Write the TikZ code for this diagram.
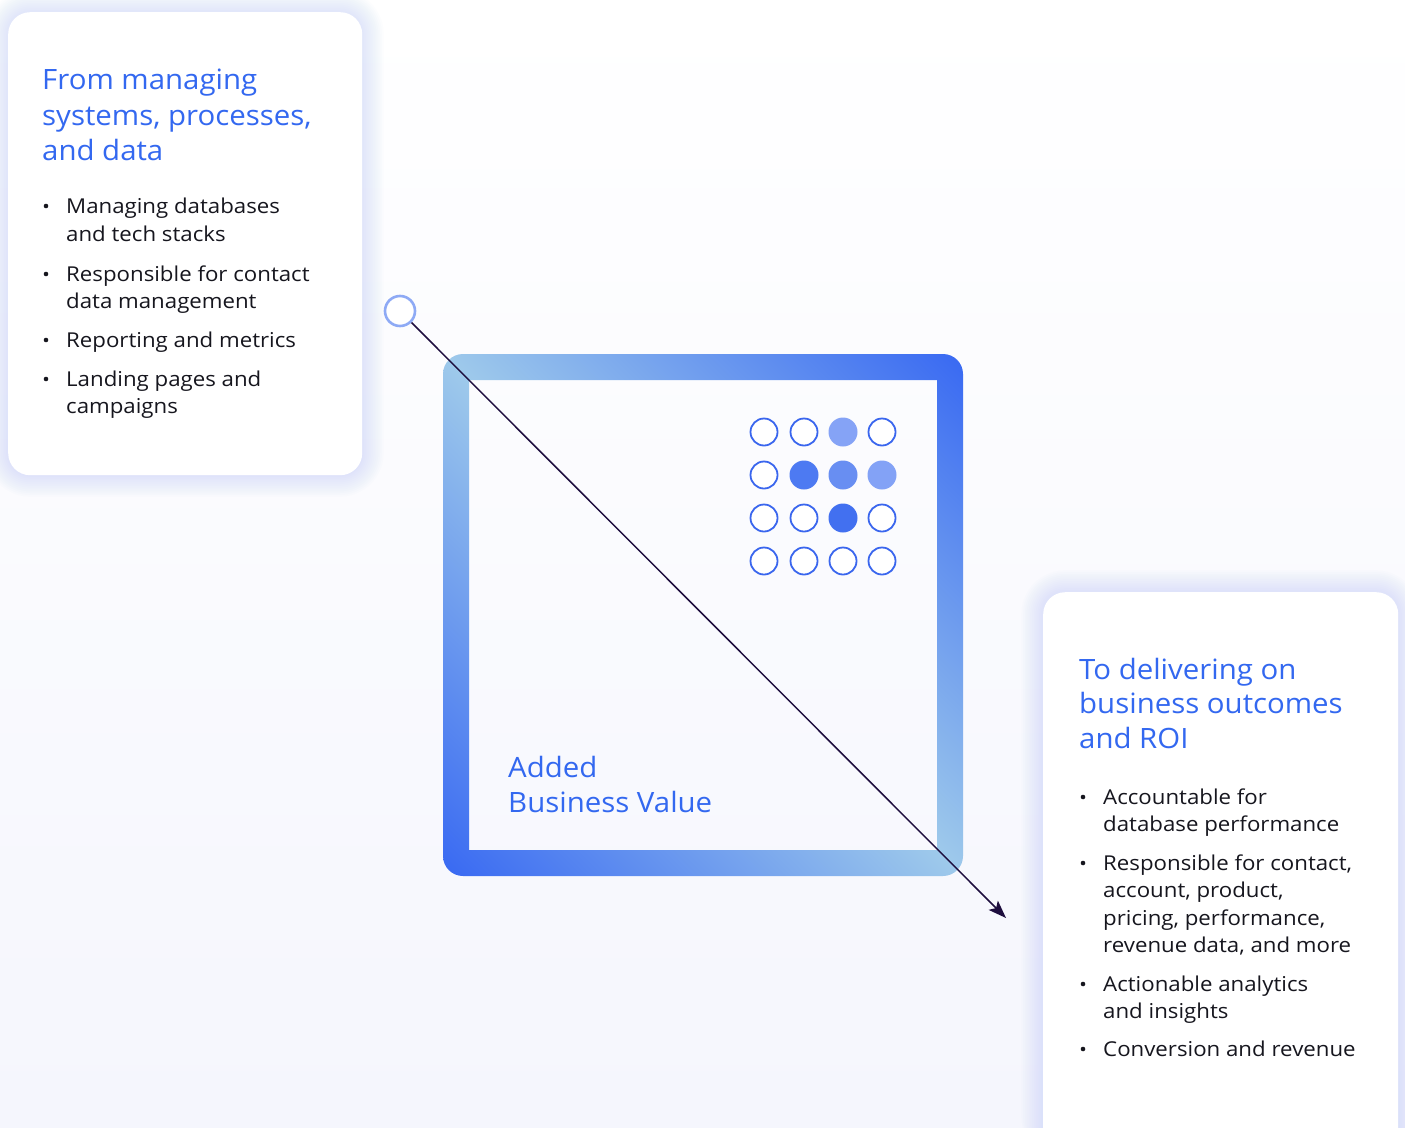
\documentclass[tikz,border=0pt]{standalone}
\usepackage{fontspec}
\setmainfont{Open Sans}
\newfontfamily\headfont{Open Sans}[FakeStretch=1.05]
\newfontfamily\itemfont{Open Sans}[FakeStretch=1.085]
\usetikzlibrary{arrows.meta}
\definecolor{hblue}{RGB}{51,104,240}
\definecolor{txt}{RGB}{22,22,30}
\definecolor{dotblue}{RGB}{58,102,238}
\definecolor{arrowc}{RGB}{30,14,62}
\definecolor{ringc}{RGB}{142,170,245}
\definecolor{glow}{RGB}{185,200,250}
\definecolor{bgbot}{RGB}{245,246,253}
\definecolor{bgmid}{RGB}{252,252,255}
\definecolor{fa}{RGB}{133,163,246}
\definecolor{fb}{RGB}{77,122,242}
\definecolor{fc}{RGB}{104,142,242}
\definecolor{fd}{RGB}{131,162,246}
\definecolor{fe}{RGB}{66,112,240}
\pgfdeclarefunctionalshading{frameshade}{\pgfpoint{0bp}{0bp}}{\pgfpoint{100bp}{100bp}}{}{add 100 sub abs 50 div dup dup -0.40 mul 0.62 add exch -0.38 mul 0.79 add 3 -1 roll 0.03 mul 0.92 add}
\tikzset{
  card/.style={fill=white, draw=none, rounded corners=22pt, anchor=north west, inner sep=0pt},
  odot/.style={circle, minimum size=27pt, inner sep=0pt, draw=dotblue, line width=1.8pt, fill=white},
  fdot/.style={circle, minimum size=29pt, inner sep=0pt, draw=none, fill=#1},
  dfa/.style={fdot=fa}, dfb/.style={fdot=fb}, dfc/.style={fdot=fc}, dfd/.style={fdot=fd}, dfe/.style={fdot=fe},
  head/.style={anchor=base west, inner sep=0pt, text=hblue, font=\headfont\fontsize{28}{35}\selectfont},
  item/.style={anchor=base west, inner sep=0pt, text=txt, font=\itemfont\fontsize{20.5}{27}\selectfont},
  bul/.style={circle, fill=txt, inner sep=0pt, minimum size=4.6pt},
}
\begin{document}
\begin{tikzpicture}[x=1pt,y=-1pt]
\useasboundingbox (0,0) rectangle (1405,1127);
% background
\shade[top color=white, middle color=bgmid, bottom color=bgbot] (0,0) rectangle (1405,1127);
% glows
\foreach \i in {1,...,12}{
  \pgfmathsetmacro\d{\i*1.8}
  \pgfmathsetmacro\rr{22+\d}
  \fill[glow, opacity=0.035, rounded corners=\rr pt] (8-\d,12-\d) rectangle (362+\d,475+\d);
  \fill[glow, opacity=0.035, rounded corners=\rr pt] (1043-\d,592-\d) rectangle (1398+\d,1160);
}
% cards
\node[card, minimum width=354pt, minimum height=463pt] (lcard) at (8,12) {};
\node[card, minimum width=355pt, minimum height=560pt] (rcard) at (1043,592) {};
% frame
\shade[shading=frameshade, even odd rule]
  [rounded corners=20pt] (443,354) rectangle (963,876)
  [sharp corners] (469,380) rectangle (937,850);
% dots
\foreach \n/\x/\y/\s in {
  a/764/432/odot, b/804/432/odot, c/843/432/dfa, d/882/432/odot,
  e/764/475/odot, f/804/475/dfb, g/843/475/dfc, h/882/475/dfd,
  i/764/518/odot, j/804/518/odot, k/843/518/dfe, l/882/518/odot,
  m/764/561/odot, n/804/561/odot, o/843/561/odot, p/882/561/odot}
  \node[\s] (dot\n) at (\x,\y) {};
% texts in frame
\node[head] (av1) at (508,777) {Added};
\node[head] (av2) at (508,812) {Business Value};
% left card
\node[head] (lh1) at (42,89) {From managing};
\node[head] (lh2) at (42,125) {systems, processes,};
\node[head] (lh3) at (42,160) {and data};
\foreach \n/\y/\t/\b in {
  1/213/{Managing databases}/1, 2/241/{and tech stacks}/0,
  3/281/{Responsible for contact}/1, 4/308/{data management}/0,
  5/347/{Reporting and metrics}/1,
  6/386/{Landing pages and}/1, 7/413/{campaigns}/0}{
  \node[item] (li\n) at (66,\y) {\t};
  \ifnum\b=1 \node[bul] (lb\n) at (46,\y-7) {};\fi
}
% right card
\node[head] (rh1) at (1079,679) {To delivering on};
\node[head] (rh2) at (1079,713) {business outcomes};
\node[head] (rh3) at (1079,748) {and ROI};
\foreach \n/\y/\t/\b in {
  1/804/{Accountable for}/1, 2/831/{database performance}/0,
  3/870/{Responsible for contact,}/1, 4/897/{account, product,}/0,
  5/925/{pricing, performance,}/0, 6/952/{revenue data, and more}/0,
  7/991/{Actionable analytics}/1, 8/1018/{and insights}/0,
  9/1056/{Conversion and revenue}/1}{
  \node[item] (ri\n) at (1103,\y) {\t};
  \ifnum\b=1 \node[bul] (rb\n) at (1083,\y-7) {};\fi
}
% connector
\node[circle, draw=ringc, line width=2.6pt, fill=white, minimum size=30pt, inner sep=0pt] (start) at (400,311) {};
\coordinate (end) at (1006,918);
\draw[arrowc, line width=1.5pt, -{Stealth[length=18pt, width=13pt, inset=4pt]}] (start) -- (end);
\end{tikzpicture}
\end{document}
